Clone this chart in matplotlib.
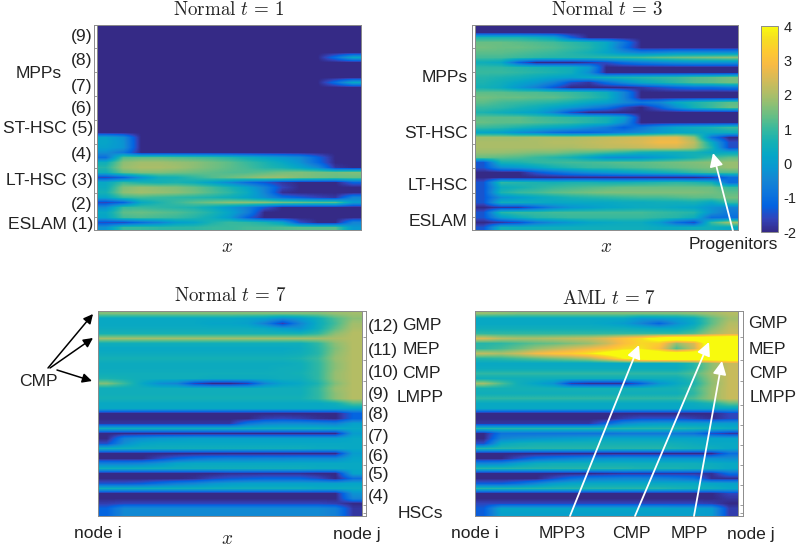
import numpy as np
import matplotlib
matplotlib.use("Agg")
import matplotlib.pyplot as plt
from matplotlib.colors import LinearSegmentedColormap

plt.rcParams['font.family'] = ['Liberation Sans', 'DejaVu Sans']
plt.rcParams['mathtext.fontset'] = 'cm'

# parula, sampled from the usual matlab table
parula = LinearSegmentedColormap.from_list("parula", [
    (0.2081, 0.1663, 0.5292), (0.1959, 0.2645, 0.7279), (0.0117, 0.3875, 0.8820),
    (0.0498, 0.4586, 0.8641), (0.0793, 0.5200, 0.8312), (0.0343, 0.5966, 0.8199),
    (0.0228, 0.6535, 0.7768), (0.0843, 0.6928, 0.7062), (0.2178, 0.7250, 0.6193),
    (0.3953, 0.7459, 0.5244), (0.5709, 0.7485, 0.4494), (0.7184, 0.7411, 0.3905),
    (0.8507, 0.7299, 0.3360), (0.9739, 0.7314, 0.2666), (0.9955, 0.7861, 0.1967),
    (0.9626, 0.8705, 0.1309), (0.9763, 0.9831, 0.0538)])

cbar_ticks = [-2, -1, 0, 1, 2, 3, 4]

# each row is one horizontal slice, top to bottom, read along x
normal_t1 = [[-2] * 15 for _ in range(22)] + [
    [.2, -.3, -2, -2, -2, -2, -2, -2, -2, -2, -2, -2, -2, -2, -2],
    [.2, -.2, -2, -2, -2, -2, -2, -2, -2, -2, -2, -2, -2, -2, -2],
    [.1, -.2, -2, -2, -2, -2, -2, -2, -2, -2, -2, -2, -2, -2, -2],
    [-.3, -.8, -2, -2, -2, -2, -2, -2, -2, -2, -2, -2, -2, -2, -2],
    [-1, 1.2, 1.3, 1.3, 1.2, 1.1, 1, .8, .5, .2, -.1, -.4, -1.2, -2, -2],
    [.5, 1.7, 1.9, 1.9, 1.8, 1.7, 1.5, 1.3, 1, .7, .3, -.2, -1.1, -2, -2],
    [.8, 1.8, 2, 2, 1.9, 1.7, 1.5, 1.3, 1.1, .8, .6, .2, -.4, -1.8, -2],
    [.5, 1.4, 1.6, 1.6, 1.5, 1.4, 1.3, 1.2, 1.2, 1.3, 1.5, 1.6, 1.5, 1.5, 1.6],
    [-1.6, -1.2, -.2, .5, .6, .9, 1.2, 1.4, 1.6, 1.8, 1.8, 1.6, 1.5, 1.4, 1.4],
    [.3, 1.0, .7, .6, .7, .5, .1, -.4, -1, -1.4, -1.8, -2, -2, -2, -1.2],
    [.4, 1.6, 1.8, 1.7, 1.6, 1.4, 1.1, .7, .2, -.6, -1.6, -2, -2, -2, -2],
    [.6, 1.7, 1.9, 1.8, 1.7, 1.5, 1.2, .9, .4, -.5, -1.9, -2, -2, -2, -2],
    [.2, 1.0, 1.1, 1.0, .9, .8, .7, .5, .2, -.3, -1, -1.3, -1.6, -1.8, -.5],
    [-1.6, -1.2, .3, .7, 1, 1.3, 1.5, 1.7, 1.7, 1.7, 1.5, 1.4, 1.3, 1.3, 0],
    [-.3, 1, 1, .9, .8, .7, .4, -.1, -.6, -1.4, -2, -2, -2, -2, -2],
    [.3, 1.3, 1.4, 1.3, 1.2, 1, .7, .2, -.6, -2, -2, -2, -2, -2, -2],
    [.2, 1.1, 1.2, 1.1, 1, .8, .5, 0, -1.2, -2, -2, -2, -2, -2, -2],
    [-1.5, -1.5, -1, -.6, 0, .2, .7, 1, .9, .7, .2, -1.5, -2, -2, -.5],
    [-.2, 1, 1, .9, .9, .9, 1, 1, 1.1, 1.1, 1.2, 1.3, 1.3, 1.3, -.1],
]
normal_t1[6][13:] = [-1, .3]
normal_t1[11][13:] = [-1, .3]

normal_t3 = [
    [-2] * 15,
    [-2] * 15,
    [.7, .7, .7, .5, .2, -1.2, -2, -2, -2, -2, -2, -2, -2, -2, -2],
    [1.4, 1.4, 1.3, 1.2, 1.1, .9, .7, .3, -.8, -2, -2, -2, -2, -2, -2],
    [1.5, 1.4, 1.4, 1.3, 1.2, 1, .8, .3, -1, -2, -2, -2, -2, -2, -2],
    [1.3, 1.3, 1.2, 1.1, 1, .8, .6, .2, -.3, -.6, -.5, -.3, -.3, -.3, -.3],
    [1.1, 1.1, 1, .9, .8, .8, .8, .9, 1, 1.1, 1.3, 1.4, 1.5, 1.6, 1.7],
    [.5, .3, -1.2, -2, -2, -2, -1.8, -1.5, -1, -.7, -.5, -.3, -.2, -.2, -.2],
    [.9, .9, .8, .7, .6, .5, 0, -2, -2, -2, -2, -2, -2, -2, -2],
    [1, 1, .9, .8, .7, .5, -.3, -2, -2, -2, -2, -2, -2, -2, -2],
    [.8, .7, .6, .4, .2, .1, .3, .6, .7, .8, .9, 1, 1.2, 1.3, 1.5],
    [.7, .5, .2, -.1, -.6, -1.5, -1.8, -1, -.3, .3, .6, .9, 1.2, 1.3, 1.5],
    [.6, .4, -.1, -.6, -1.4, -2, -2, -2, -2, -1.8, -1.5, -1.2, -1, -1, -.8],
    [1.3, 1.3, 1.2, 1.2, 1.1, 1, .8, .5, -.5, -2, -2, -2, -2, -2, -2],
    [1.5, 1.4, 1.4, 1.3, 1.3, 1.1, .9, .6, -.5, -2, -2, -2, -2, -2, -2],
    [1.3, 1.1, 1, .9, .8, .6, .3, .1, -.4, -.8, -.5, .3, .7, 1, 1.3],
    [1, .9, .7, .5, .2, -.1, -.5, -.9, -1.6, -2, -1.3, -.3, .6, 1, 1.4],
    [.7, .5, .3, .1, -.5, -1.5, -2, -2, -2, -2, -2, -2, -2, -2, -2],
    [1.3, 1.3, 1.3, 1.1, 1, .9, .8, .6, .1, -2, -2, -2, -2, -2, -2],
    [1.4, 1.3, 1.3, 1.2, 1.1, 1, .8, .6, -.3, -2, -2, -2, -2, -2, -2],
    [1, .9, .7, .5, .3, .1, -.3, -.7, -1.3, -.8, -.2, .3, .5, .7, 1],
    [.2, .1, -.3, -.6, -1, -1.2, -1.2, -1, -.7, -.4, -.1, .2, .3, .4, .5],
    [1.9, 1.9, 1.9, 2, 2, 2, 2.1, 2.2, 2.3, 2.4, 2.6, 2.6, 1.8, -.8, -2],
    [2, 2, 2, 2, 2.1, 2.1, 2.2, 2.3, 2.4, 2.5, 2.8, 2.8, 2.2, .4, -1.5],
    [2, 2, 2, 2, 2, 2, 2.1, 2.2, 2.2, 2.3, 2.4, 2.4, 2, .7, -1.5],
    [1.8, 1.8, 1.7, 1.6, 1.6, 1.4, 1.3, 1.1, .9, .6, .5, .5, .6, .3, .3],
    [1.4, 1.3, 1.2, 1, .8, .6, .2, -.3, -.4, -.3, 0, .3, .6, 1, 1.3],
    [-1.4, .6, .7, .9, 1, 1.1, 1.1, 1.2, 1.3, 1.3, 1.4, 1.5, 1.6, 1.7, 1.8],
    [-1.4, -.3, -.1, .2, .6, .8, 1, 1, 1.1, 1.2, 1.3, 1.4, 1.5, 1.6, 1.8],
    [-2, -2, -2, -1.4, -1, -.6, -.3, -.1, .1, .3, .5, .7, 1, 1.2, 1.2],
    [-2, -2, -2, -2, -2, -2, -2, -2, -2, -2, -2, -2, -2, -1.8, -1],
    [-1.4, .9, .8, .7, .6, .7, .7, .6, .6, .7, .8, .9, .8, .6, -1],
    [-1.4, .4, .6, .8, 1, 1.1, 1.2, 1.3, 1.4, 1.4, 1.4, 1.4, 1.4, 1.4, 1],
    [-1.4, .7, 1, 1.1, 1.3, 1.4, 1.5, 1.6, 1.6, 1.6, 1.6, 1.6, 1.6, 1.5, 1.3],
    [-1.4, -.3, 0, .3, .5, .7, .8, .9, 1, 1.1, 1.1, 1.2, 1.3, 1.3, 1.5],
    [-1.4, .5, .5, .4, .3, .3, .3, .3, .4, .4, .5, .5, .6, .3, 1],
    [-2, -1.8, -1.8, -1.2, -.6, -.2, 0, .2, .3, .4, .4, .3, .2, -.2, -.5],
    [-1.4, .8, 1, 1, 1.1, 1.1, 1.1, 1.1, 1.1, 1.1, 1, .9, .8, -.2, -.8],
    [-1.4, 0, .5, .8, .9, 1, 1, 1, 1, 1, .9, .8, .5, -1, -1],
    [-2, -1.8, -1.5, -.8, -.4, -.1, .2, .3, .4, .4, 0, -1, -1.5, 1, 1.9],
    [-1.4, .6, .5, .5, .5, .5, .5, .5, .5, .5, .4, .4, .5, .5, .3],
]

normal_t7 = [
    [1.6, 1.6, 1.6, 1.6, 1.6, 1.6, 1.6, 1.6, 1.6, 1.6, 1.6, 1.6, 1.6, 1.8, 1.9],
    [.3, .3, .3, .3, .3, .3, .3, .3, .2, .1, -.3, 0, .5, 1.2, 1.7],
    [.3, .3, .3, .3, .3, .3, .2, .2, .1, -.6, -1.7, -.5, .4, 1.1, 1.9],
    [.4, .4, .4, .4, .4, .4, .4, .4, .4, .3, 0, -.2, .5, 1.3, 2],
    [.6, .6, .6, .6, .6, .6, .6, .6, .6, .6, .6, .6, .9, 1.7, 2.1],
    [1.9, 1.9, 1.9, 1.9, 1.9, 1.9, 1.9, 1.9, 1.9, 1.9, 1.9, 1.9, 1.9, 2, 2.1],
    [.5, .5, .5, .5, .5, .5, .5, .5, .5, .5, .5, .5, .9, 1.7, 2.1],
    [.3, .3, .3, .3, .3, .3, .3, .3, .3, .3, .3, .4, .8, 1.6, 2.1],
    [.4, .4, .4, .4, .4, .4, .4, .4, .4, .4, .4, .5, .8, 1.7, 2.1],
    [.6, .6, .6, .6, .6, .6, .6, .6, .6, .6, .6, .7, 1, 1.8, 2.1],
    [.4, .4, .4, .4, .4, .4, .4, .4, .4, .4, .4, .5, .9, 1.7, 2.1],
    [.4, .4, .4, .4, .4, .4, .4, .4, .4, .4, .5, .5, .9, 1.7, 2.1],
    [.5, .5, .5, .5, .5, .5, .5, .5, .5, .5, .5, .6, .9, 1.8, 2.1],
    [.7, .6, .5, .5, .5, .5, .4, .4, .4, .4, .5, .5, .9, 1.8, 2.1],
    [1.6, 1, .3, -.3, -.5, -1.6, -2, -2, -1.7, -.5, .1, .3, .7, 1.6, 2.1],
    [.5, .5, .5, .5, .5, .5, .5, .5, .5, .5, .5, .5, .9, 1.8, 2.1],
    [.5, .5, .5, .5, .5, .5, .5, .5, .5, .5, .5, .5, .9, 1.7, 2.1],
    [.6, .6, .6, .6, .6, .6, .6, .6, .6, .6, .6, .6, .9, 1.7, 2.1],
    [.3, .3, .3, .3, .3, .3, .3, .3, .3, .3, .3, .3, .3, .5, 1.2],
    [.3, .3, .3, .3, .3, .3, .3, .3, .3, .3, .3, .3, .3, .3, .3],
    [-2, -2, -2, -2, -2, -2, -2, -2, -2, -2, -2, -2, -2, -2, -1.2],
    [-2, -2, -2, -2, -2, -2, -2, -2, -2, -1.7, -1.6, -1.7, -1.9, -2, -1.2],
    [-1.8, -1.8, -1.8, -1.8, -1.8, -1.8, -1.8, -1.8, -.9, -.5, -.4, -.4, -.5, -.6, .1],
    [.5, .5, .5, .5, .5, .5, .5, .5, .5, .5, .5, .5, .5, .4, .3],
    [-2, -2, -2, -2, -2, -2, -2, -2, -2, -2, -2, -2, -2, -2, 0],
    [-2, -.6, -.3, -.1, 0, .1, .1, .1, .1, .1, .1, .1, .1, .1, .3],
    [-1.5, -.3, .2, .3, .3, .3, .3, .3, .3, .3, .3, .3, .3, .3, .3],
    [.5, .5, .5, .5, .5, .5, .5, .5, .5, .5, .5, .5, .4, .4, .3],
    [-2, -2, -2, -2, -2, -2, -2, -2, -2, -2, -2, -2, -2, -2, 0],
    [-2, -2, -2, -1.6, -1.2, -.9, -.7, -.6, -.6, -.5, -.5, -.4, -.4, -.4, .2],
    [-.6, -.6, -.5, -.2, .2, .3, .3, .3, .3, .3, .3, .3, .3, .3, .3],
    [.5, .5, .5, .5, .5, .5, .5, .5, .5, .5, .5, .5, .4, .4, .3],
    [-2, -2, -2, -2, -2, -2, -2, -1.9, -1.9, -1.9, -1.9, -1.9, -2, -2, .2],
    [-2, -2, -2, -2, -2, -1.9, -1.6, -1.4, -1.3, -1.2, -1.2, -1.2, -1.5, -2, -1],
    [-1.4, -1.4, -1.3, -1, -.7, -.5, -.2, 0, .1, .1, .1, .1, .1, .1, .2],
    [.5, .5, .5, .5, .5, .5, .5, .5, .5, .5, .5, .5, .4, .4, .4],
    [-2, -2, -2, -2, -2, -2, -2, -2, -2, -2, -2, -2, -2, -2, -.2],
    [-2, -2, -2, -2, -2, -2, -2, -2, -2, -2, -2, -2, -2, -2, -.5],
    [-1.7, -1.6, -1.6, -1.6, -1.6, -1.6, -1.6, -1.6, -1.6, -1.6, -1.6, -1.6, -1.6, -1.7, -2],
    [-1.2, -.4, -.4, -.4, -.4, -.4, -.4, -.4, -.4, -.4, -.4, -.4, -.4, -.6, -1.8],
    [-1.2, -.4, -.4, -.4, -.4, -.4, -.4, -.4, -.4, -.4, -.4, -.4, -.4, -.6, -1.8],
]

aml_t7 = [
    [1.8, 1.7, 1.6, 1.6, 1.6, 1.6, 1.6, 1.6, 1.6, 1.6, 1.6, 1.6, 1.7, 1.9, 2.1],
    [.3, .3, .3, .3, .3, .3, .3, .3, .3, -.1, 0, .1, .4, 1.3, 1.9],
    [.3, .3, .3, .3, .3, .3, .3, .2, 0, -.5, -1.2, -.3, .3, 1.3, 2.1],
    [.5, .5, .5, .5, .5, .5, .5, .5, .5, .4, .3, .3, .7, 1.6, 2.2],
    [.9, .9, .9, .9, .9, .9, .9, .9, .9, .9, .9, .9, 1.2, 1.9, 2.3],
    [2.5, 2.1, 2, 2, 2.1, 2.2, 2.3, 2.6, 3.1, 3.6, 4.5, 5, 5, 5, 5],
    [.8, .9, 1.1, 1.3, 1.4, 1.6, 1.8, 2.3, 3, 3.5, 3.3, 1.8, 2.5, 5, 5],
    [.9, 1.1, 1.4, 1.8, 2.1, 2.4, 2.7, 3, 3.5, 3.7, 3, 1.2, 2.3, 5, 5],
    [2.2, 2, 2.3, 2.8, 3.1, 3.3, 3.7, 4.3, 4.8, 5, 4.6, 4.6, 4.8, 5, 5],
    [.8, .9, 1.1, 1.3, 1.5, 1.7, 2, 2.8, 3.9, 4.8, 5, 5, 5, 5, 5],
    [.3, .3, .3, .3, .3, .3, .3, .3, .3, .3, .3, .4, .8, 1.7, 2.3],
    [.4, .4, .4, .4, .4, .4, .4, .4, .4, .4, .4, .4, .8, 1.7, 2.3],
    [.9, .9, .9, .9, .9, .9, .9, .9, .9, .9, .9, .9, 1.2, 1.9, 2.3],
    [.5, .5, .5, .5, .5, .5, .5, .5, .5, .5, .5, .5, .9, 1.8, 2.3],
    [1.9, 1.2, .5, .2, -.2, -1.7, -1.9, -1.9, -1.9, -1.2, -.2, .3, .7, 1.7, 2.3],
    [.6, .6, .6, .6, .6, .6, .6, .6, .6, .6, .6, .6, 1, 1.8, 2.3],
    [.5, .5, .5, .5, .5, .5, .5, .5, .5, .5, .5, .5, .9, 1.8, 2.3],
    [.9, .9, .9, .9, .9, .9, .9, .9, .9, .9, .9, .9, 1.2, 1.8, 2.3],
    [.3, .3, .3, .3, .3, .3, .3, .3, .3, .3, .3, .3, .4, .7, 1.3],
    [.3, .3, .3, .3, .3, .3, .3, .3, .3, .3, .3, .3, .3, .3, .3],
    [-2, -2, -2, -2, -2, -2, -2, -2, -2, -2, -2, -2, -2, -2, -1.6],
    [-2, -2, -2, -2, -2, -2, -2, -2, -1.7, -1.5, -1.5, -1.5, -1.7, -1.9, -1.6],
    [-1.8, -1.8, -1.8, -1.8, -1.8, -1.8, -1.8, -1.2, -.4, -.1, 0, 0, 0, 0, 0],
    [.8, .8, .8, .8, .8, .8, .8, .8, .8, .8, .8, .8, .7, .6, .4],
    [-2, -.9, -.9, -.9, -.9, -.9, -.9, -.9, -.8, -.8, -.8, -.8, -.9, -1.5, -1.8],
    [-2, -.5, -.3, -.2, -.1, 0, .1, .2, .2, .2, .2, .2, .2, .2, .2],
    [-1.5, .3, .5, .6, .6, .6, .6, .6, .6, .6, .6, .5, .4, .3, .3],
    [.8, .8, .8, .8, .8, .8, .8, .8, .8, .8, .8, .7, .6, .5, .3],
    [-2, -2, -2, -2, -2, -2, -2, -2, -2, -2, -2, -2, -2, -2, -1],
    [-2, -2, -1.5, -1, -.8, -.6, -.4, -.3, -.2, -.2, -.2, -.2, -.2, -.2, -.3],
    [-.5, -.4, .1, .4, .5, .5, .5, .5, .5, .5, .5, .5, .5, .4, .3],
    [.8, .8, .8, .8, .8, .8, .8, .8, .8, .7, .7, .7, .6, .5, .3],
    [-2, -2, -2, -2, -2, -2, -2, -1.9, -1.8, -1.8, -1.8, -1.8, -1.8, -1.9, -1],
    [-2, -2, -2, -2, -1.5, -1, -.7, -.6, -.5, -.5, -.6, -.7, -.9, -1.9, -1.9],
    [-1.3, -1.3, -1, -.5, 0, .2, .3, .3, .3, .3, .3, .3, .3, .2, .1],
    [.8, .8, .8, .8, .8, .8, .8, .8, .8, .8, .8, .7, .6, .5, .3],
    [-2, -2, -2, -2, -2, -2, -2, -2, -2, -2, -2, -2, -2, -2, -1.6],
    [-2, -2, -2, -2, -2, -2, -2, -2, -2, -2, -2, -2, -2, -2, -1.8],
    [-1.6, -1.6, -1.6, -1.6, -1.6, -1.6, -1.6, -1.6, -1.6, -1.6, -1.6, -1.6, -1.6, -1.7, -2],
    [-1.3, .2, .2, .2, .2, .2, .2, .2, .2, .2, .2, .1, .1, 0, -1.7],
    [-1.3, .1, .1, .1, .1, .1, .1, .1, .1, .1, .1, .1, .1, 0, -1.7],
]

t1_labels = ["(9)", "(8)", "(7)", "(6)", "ST-HSC (5)", "(4)", "LT-HSC (3)", "(2)", "ESLAM (1)"]
t3_labels = ["MPPs", "ST-HSC", "LT-HSC", "ESLAM"]
t7_numbers = ["(12)", "(11)", "(10)", "(9)", "(8)", "(7)", "(6)", "(5)", "(4)"]
t7_names = ["GMP", "MEP", "CMP", "LMPP", "HSCs"]
aml_names = ["GMP", "MEP", "CMP", "LMPP"]
aml_callouts = ["MPP3", "CMP", "MPP"]

W, H = 800, 547
FS = 12.6
GREY = "#8c8c8c"


def px_axes(fig, x0, y0, x1, y1):
    # axes from pixel box, y measured from the top of the image
    return fig.add_axes([x0 / W, 1 - y1 / H, (x1 - x0) / W, (y1 - y0) / H])


def heat(fig, data, box):
    ax = px_axes(fig, *box)
    im = ax.imshow(np.array(data, dtype=float), cmap=parula, vmin=-2, vmax=4, aspect='auto',
                   interpolation='bilinear', interpolation_stage='data')
    ax.set_xticks([])
    ax.set_yticks([])
    for s in ax.spines.values():
        s.set_color(GREY)
        s.set_linewidth(0.7)
    return im


def strip(fig, box, ticks, side):
    # narrow tick strip next to a heatmap
    ax = px_axes(fig, *box)
    ax.set_xlim(0, 1)
    ax.set_ylim(box[3], box[1])
    ax.set_xticks([])
    ax.set_yticks(ticks)
    ax.set_yticklabels([])
    ax.tick_params(axis='y', direction='in', length=2, width=0.6, color=GREY,
                   left=side == 'left', right=side == 'right')
    for s in ax.spines.values():
        s.set_color(GREY)
        s.set_linewidth(0.7)


fig = plt.figure(figsize=(W / 100, H / 100), dpi=100)

im = heat(fig, normal_t1, (97, 25, 361, 230))
heat(fig, normal_t3, (475, 25, 738, 230))
heat(fig, normal_t7, (98, 311, 362, 516))
heat(fig, aml_t7, (475, 311, 738, 516))

upper_ticks = [48, 72, 96, 120, 144, 168, 193, 217]
lower_ticks = [337, 360, 381, 405, 425, 445, 465, 485, 505, 513]
strip(fig, (94, 25, 97, 230), upper_ticks, 'left')
strip(fig, (472, 25, 475, 230), upper_ticks, 'left')
strip(fig, (362, 311, 366, 516), lower_ticks, 'right')
strip(fig, (738, 311, 743, 516), lower_ticks, 'right')

cax = px_axes(fig, 761, 26, 778, 232)
cb = fig.colorbar(im, cax=cax, ticks=cbar_ticks)
cb.ax.set_yticklabels([str(t) for t in cbar_ticks], fontsize=10.5, color="#222222")
cb.ax.tick_params(length=0, pad=4)
cb.outline.set_edgecolor(GREY)
cb.outline.set_linewidth(0.7)

# overlay in image pixels for the labels and arrows
ov = fig.add_axes([0, 0, 1, 1], facecolor='none')
ov.set_xlim(0, W)
ov.set_ylim(H, 0)
ov.axis('off')


def label(x, y, s, ha='center', size=FS, color="#222222"):
    ov.text(x, y, s, ha=ha, va='center', fontsize=size, color=color)


def arrow(start, end, color, lw, head):
    ov.annotate("", xy=end, xytext=start,
                arrowprops=dict(arrowstyle='-|>', color=color, lw=lw, mutation_scale=head,
                                shrinkA=0, shrinkB=0))


label(229, 10, r"$\mathrm{Normal}\ t\,=\,1$", size=13.7)
label(607, 10, r"$\mathrm{Normal}\ t\,=\,3$", size=13.7)
label(230, 296, r"$\mathrm{Normal}\ t\,=\,7$", size=13.7)
label(609, 299, r"$\mathrm{AML}\ t\,=\,7$", size=13.7)
label(227, 247, r"$x$", size=13.7)
label(606, 247, r"$x$", size=13.7)
label(227, 539, r"$x$", size=13.7)

for s, y in zip(t1_labels, [37, 61, 86, 108, 129, 154, 180, 204, 224]):
    label(93, y, s, ha='right')
label(62, 73, "MPPs", ha='right')

for s, y in zip(t3_labels, [77, 133, 185, 221]):
    label(468, y, s, ha='right')
label(733, 244, "Progenitors")

for s, y in zip(t7_numbers, [326, 350, 373, 395, 415, 436, 456, 475, 496]):
    label(368, y, s, ha='left')
for s, x, y in zip(t7_names, [402, 403, 402, 397, 398], [326, 350, 373, 398, 513]):
    label(x, y, s, ha='left')
for s, x, y in zip(aml_names, [748, 749, 749, 750], [324, 349, 373, 398]):
    label(x, y, s, ha='left')

label(98, 534, "node i")
label(357, 534, "node j")
label(475, 534, "node i")
label(751, 534, "node j")
for s, x in zip(aml_callouts, [562, 631, 689]):
    label(x, 534, s)
label(38, 382, "CMP")

arrow((48, 368), (93, 314), 'black', 1.1, 14)
arrow((50, 368), (93, 338), 'black', 1.1, 14)
arrow((57, 370), (92, 381), 'black', 1.1, 14)
arrow((733, 231), (713, 153), 'white', 1.3, 20)
arrow((570, 516), (639, 345), 'white', 1.3, 20)
arrow((635, 516), (709, 342), 'white', 1.3, 20)
arrow((694, 516), (722, 361), 'white', 1.3, 20)

fig.savefig("out.png", dpi=100)
